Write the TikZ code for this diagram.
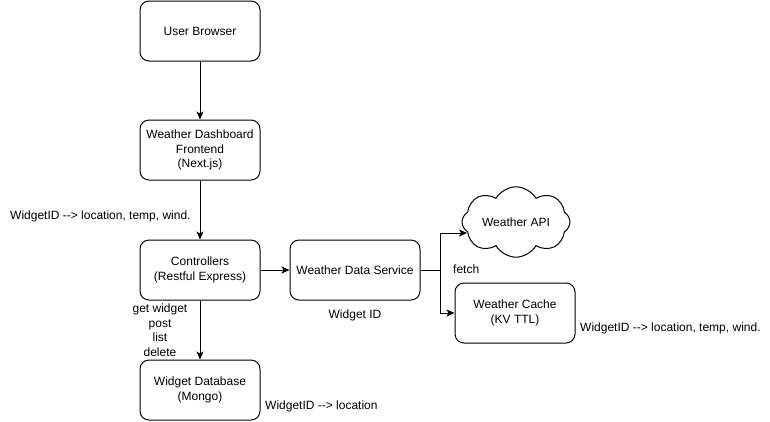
\documentclass[tikz,border=0pt]{standalone}
\usepackage{fontspec}
\setmainfont{Liberation Sans}
\usetikzlibrary{shapes.symbols,arrows.meta}
\tikzset{
  box/.style={draw, line width=1pt, rounded corners=9pt, minimum width=120pt, minimum height=60pt, align=center, inner sep=2pt},
  lbl/.style={align=center, inner sep=0pt},
  conn/.style={line width=1pt, -{Stealth[length=8pt,width=7pt,inset=2pt]}},
  every node/.append style={font=\fontsize{12}{14.5}\selectfont}
}
\begin{document}
\begin{tikzpicture}[x=1pt,y=-1pt]
\useasboundingbox (0,0) rectangle (770,421);
\node[box] (ub) at (200,31) {User Browser};
\node[box] (wd) at (200,150) {Weather Dashboard\\Frontend\\(Next.js)};
\node[box] (ctrl) at (200,270) {Controllers\\(Restful Express)};
\node[box] (db) at (200,390) {Widget Database\\(Mongo)};
\node[box, minimum width=130pt] (wds) at (355,270) {Weather Data Service};
\node[box] (cache) at (515,313) {Weather Cache\\(KV TTL)};
\node[cloud, draw, line width=1pt, cloud puffs=8, cloud puff arc=120, aspect=1.8, minimum width=108pt, minimum height=64pt, inner sep=0pt] (api) at (516,222) {Weather API};
\coordinate (j) at (440,270);
\coordinate (apiin) at (467,233);
\draw[conn] (ub) -- (wd);
\draw[conn] (wd) -- (ctrl);
\draw[conn] (ctrl) -- (db);
\draw[conn] (ctrl) -- (wds);
\draw[line width=1pt] (wds.east) -- (j);
\draw[conn] (j) |- (apiin);
\draw[conn] (j) |- (cache.west);
\node[lbl, anchor=west] (l1) at (10,216) {WidgetID -{}-> location, temp, wind.};
\node[lbl] (l2) at (160,330) {get widget\\post\\list\\delete};
\node[lbl, anchor=west] (l3) at (265,406) {WidgetID -{}-> location};
\node[lbl] (l4) at (355,315) {Widget ID};
\node[lbl, anchor=west] (l5) at (453,269) {fetch};
\node[lbl, anchor=west] (l6) at (580,328) {WidgetID -{}-> location, temp, wind.};
\end{tikzpicture}
\end{document}
